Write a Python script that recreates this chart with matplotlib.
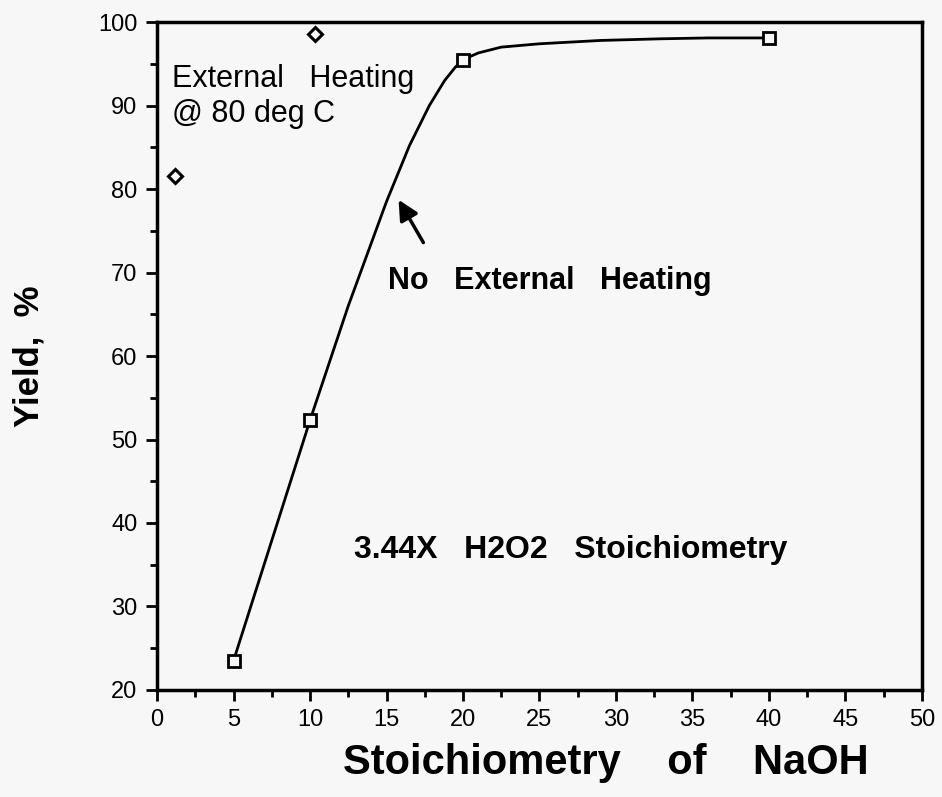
import numpy as np
import matplotlib.pyplot as plt

plt.rcParams['font.family'] = ['Liberation Sans', 'DejaVu Sans']

# measured points, no external heating
naoh_sq = [5, 10, 20, 40]
yield_sq = [23.5, 52.3, 95.5, 98.1]

# smooth curve drawn through them
curve_x = [5, 10, 12.5, 15, 16.5, 17.8, 18.8, 19.5, 20, 21, 22.5, 25, 29, 33, 36, 40]
curve_y = [23.5, 52.3, 66.0, 78.5, 85.2, 90.0, 93.0, 94.6, 95.5, 96.3, 97.0, 97.4, 97.8, 98.0, 98.1, 98.1]

# external heating @ 80 deg C
naoh_dm = [1.2, 10.3]
yield_dm = [81.6, 98.6]

fig = plt.figure(figsize=(9.42, 7.97), dpi=100, facecolor='#f7f7f7')
ax = fig.add_axes([0.1667, 0.1343, 0.812, 0.838])
ax.set_facecolor('#f7f7f7')

ax.plot(curve_x, curve_y, color='black', lw=2)
ax.plot(naoh_sq, yield_sq, ls='none', marker='s', ms=9, mfc='#f7f7f7', mec='black', mew=2)
ax.plot(naoh_dm, yield_dm, ls='none', marker='D', ms=7.5, mfc='#f7f7f7', mec='black', mew=2.2)

ax.set_xlim(0, 50)
ax.set_ylim(20, 100)
ax.set_xticks(np.arange(0, 51, 5))
ax.set_yticks(np.arange(20, 101, 10))
ax.set_xticks(np.arange(2.5, 50, 5), minor=True)
ax.set_yticks(np.arange(25, 100, 10), minor=True)
ax.tick_params(which='major', direction='out', length=8, width=2, labelsize=17, pad=6)
ax.tick_params(which='minor', direction='out', length=5, width=2)
for s in ax.spines.values():
    s.set_linewidth(2.5)

ax.set_xlabel('Stoichiometry    of    NaOH', fontsize=30, fontweight='bold')
ax.xaxis.set_label_coords(0.587, -0.08)
ax.set_ylabel('Yield,  %', fontsize=25, fontweight='bold', labelpad=38)

ax.text(1.0, 93.2, 'External   Heating', fontsize=22, va='center')
ax.text(1.0, 89.0, '@ 80 deg C', fontsize=22, va='center')
ax.text(15.1, 69.0, 'No   External   Heating', fontsize=22, fontweight='bold', va='center')
ax.text(12.9, 36.8, '3.44X   H2O2   Stoichiometry', fontsize=23, fontweight='bold', va='center')
ax.annotate('', xy=(15.7, 79.0), xytext=(17.5, 73.3),
            arrowprops=dict(arrowstyle='-|>,head_length=1.2,head_width=0.6', color='black', lw=2.5))

fig.savefig('out.png', dpi=100, facecolor=fig.get_facecolor())
